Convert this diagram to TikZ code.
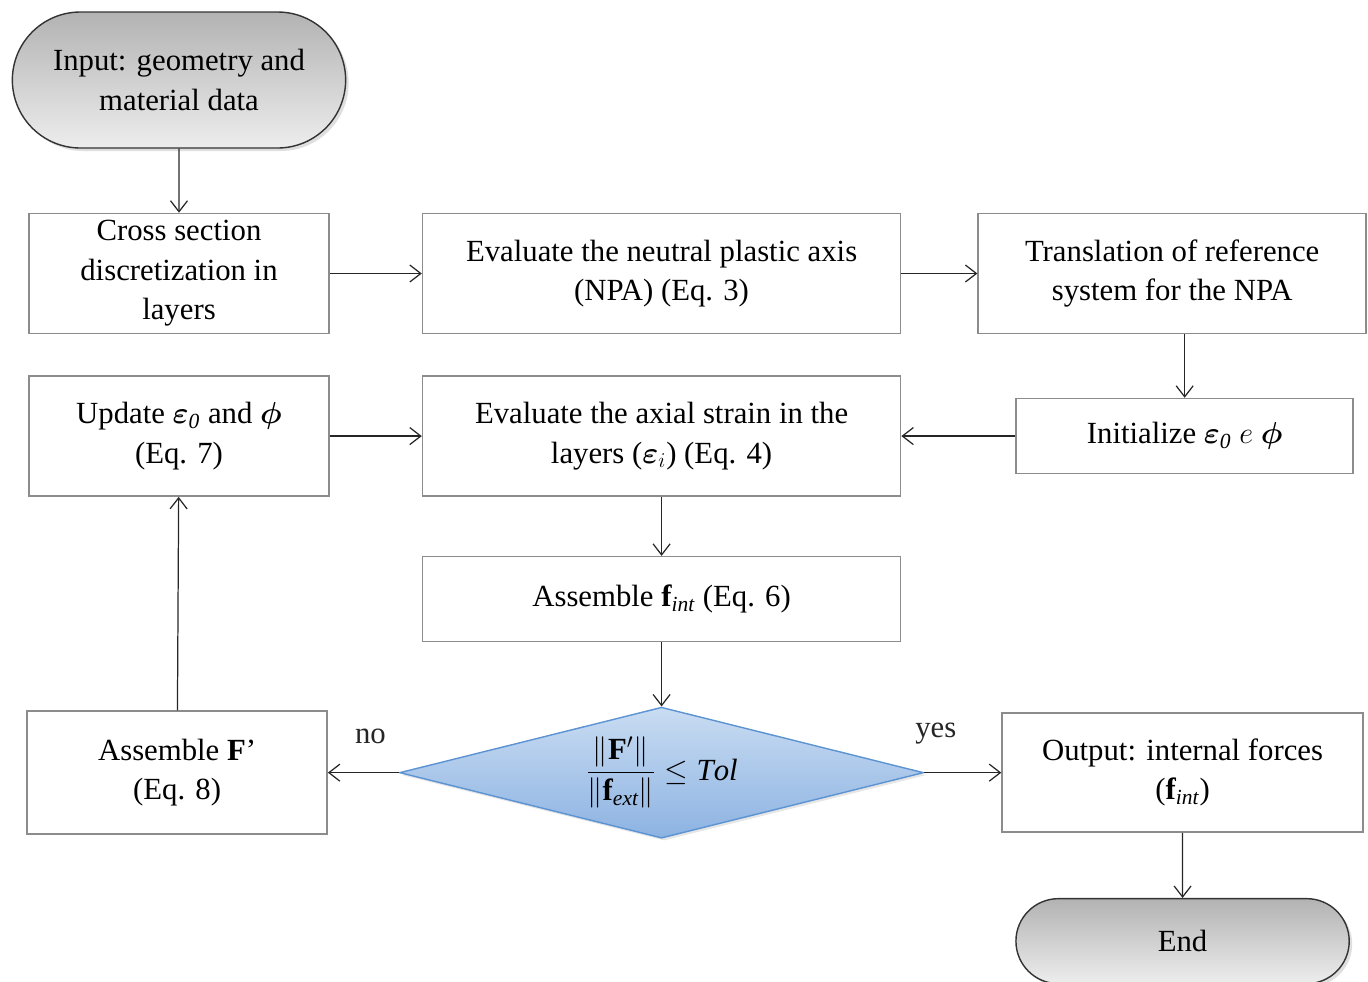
\documentclass[tikz,border=0pt]{standalone}
\usepackage{fontspec}
\setmainfont{Liberation Serif}
\usepackage{amsmath,bm}
\usetikzlibrary{shadows, shapes.geometric, shapes.misc, positioning, arrows.meta}
\definecolor{boxline}{HTML}{8C8C8C}
\definecolor{diaTop}{HTML}{C9DCF2}
\definecolor{diaBot}{HTML}{8DB3E2}
\definecolor{diaLine}{HTML}{5B93D3}

\begin{document}
\begin{tikzpicture}[
        every node/.style={font=\fontsize{17.5}{22.5}\selectfont},
        term/.style={rounded rectangle, draw=black!80, line width=0.8pt, top color=black!30, bottom color=black!7, minimum width=6.9cm, minimum height=#1, align=center, drop shadow={opacity=0.25, shadow xshift=0.06cm, shadow yshift=-0.06cm}},
        proc/.style={rectangle, draw=boxline, line width=0.9pt, fill=white, minimum width=#1, minimum height=2.4cm, align=center},
        cond/.style={diamond, aspect=4, draw=diaLine, line width=0.8pt, top color=diaTop, bottom color=diaBot, minimum width=10.48cm, minimum height=2.62cm, inner sep=0pt, align=center, drop shadow={opacity=0.2, shadow xshift=0.05cm, shadow yshift=-0.05cm}},
        arrow/.style={-{Straight Barb[length=2.2mm, width=3.4mm]}, line width=0.7pt, black!85}
    ]
    \useasboundingbox (0,0) rectangle (27.36,-19.62);
%
    \node[term=2.72cm] (start) at (3.58,-1.60) {Input: geometry and\\material data};
%
    \node[proc=6cm, below=1.28cm of start] (cross) {Cross section\\discretization in\\layers};
    \node[proc=9.56cm, right=1.84cm of cross] (npa) {Evaluate the neutral plastic axis\\(NPA) (Eq. 3)};
    \node[proc=7.76cm, right=1.52cm of npa] (trans) {Translation of reference\\system for the NPA};
%
    \node[proc=6cm, below=0.82cm of cross] (update) {Update $\bm{\varepsilon}_{\mathit{0}}$ and $\bm{\phi}$\\(Eq. 7)};
    \node[proc=9.56cm, below=0.82cm of npa] (axial) {Evaluate the axial strain in the\\layers ($\bm{\varepsilon}_{i}$) (Eq. 4)};
    \node[proc=6.74cm, minimum height=1.5cm, right=2.28cm of axial] (init) {Initialize $\bm{\varepsilon}_{\mathit{0}}$ $e$ $\bm{\phi}$};
%
    \node[proc=9.56cm, minimum height=1.7cm, below=1.18cm of axial] (fint) {Assemble $\mathbf{f}_{\mathit{int}}$ (Eq. 6)};
    \node[cond, below=1.28cm of fint] (check) {$\displaystyle\frac{\lVert\mathbf{F}'\rVert}{\lVert\mathbf{f}_{\mathit{ext}}\rVert}\leq \mathit{Tol}$};
%
    \node[proc=6cm, minimum height=2.46cm, left=1.42cm of check] (assF) {Assemble $\mathbf{F}$'\\(Eq. 8)};
    \node[proc=7.22cm, minimum height=2.38cm, right=1.54cm of check] (output) {Output: internal forces\\($\mathbf{f}_{\mathit{int}}$)};
    \node[term=1.7cm, below=1.3cm of output] (end) {End};
%
    \draw[arrow] (start) -- (cross);
    \draw[arrow] (cross) -- (npa);
    \draw[arrow] (npa) -- (trans);
    \draw[arrow] (trans.south -| init.north) -- (init.north);
    \draw[arrow] (init) -- (axial);
    \draw[arrow] (update) -- (axial);
    \draw[arrow] (axial) -- (fint);
    \draw[arrow] (fint) -- (check);
    \draw[arrow] (check) -- node[above=0.45cm, pos=0.4] {no} (assF);
    \draw[arrow] (check) -- node[above=0.45cm, pos=0.15] {yes} (output);
    \draw[arrow] (assF) -- (update);
    \draw[arrow] (output) -- (end);
%
\end{tikzpicture}
\end{document}
